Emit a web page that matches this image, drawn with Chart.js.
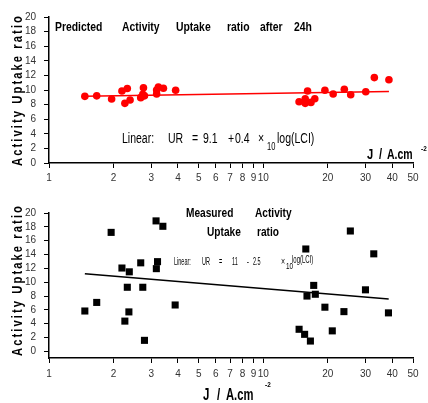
<!DOCTYPE html>
<html>
<head>
<meta charset="utf-8">
<script src="https://cdn.jsdelivr.net/npm/chart.js@4.4.1/dist/chart.umd.min.js"></script>
<style>
  html, body { margin: 0; padding: 0; background: #fff; }
  #wrap { position: relative; width: 428px; height: 403px; }
  canvas { position: absolute; left: 0; }
</style>
</head>
<body>
<div id="wrap">
  <canvas id="predicted" width="428" height="200" style="top:0"></canvas>
  <canvas id="measured" width="428" height="203" style="top:200px"></canvas>
</div>
<script>
// J / A.cm-2 and predicted uptake ratio (red dots)
const predJ = [1.47, 1.67, 1.96, 2.19, 2.26, 2.32, 2.39, 2.68, 2.74, 2.76, 2.79, 3.18, 3.18, 3.24, 3.42, 3.90,
  14.7, 15.7, 15.7, 16.1, 16.7, 17.4, 19.4, 21.2, 23.9, 25.6, 30.1, 33.0, 38.6];
const predUR = [9.13, 9.2, 8.77, 9.86, 8.17, 10.2, 8.63, 8.95, 9.4, 10.3, 9.2, 10.0, 9.45, 10.4, 10.25, 9.97,
  8.4, 8.8, 8.17, 9.86, 8.3, 8.8, 9.97, 9.45, 10.1, 9.35, 9.77, 11.7, 11.4];
// fitted line ends as drawn
const predFitJ = [1.47, 38.6];
const predFitUR = [9.15, 9.8];

// measured uptake ratio (black squares)
const measJ = [1.47, 1.67, 1.95, 2.19, 2.26, 2.32, 2.36, 2.37, 2.68, 2.74, 2.79, 3.16, 3.17, 3.21, 3.40, 3.88,
  14.7, 15.6, 15.8, 16.0, 16.6, 17.2, 17.5, 19.4, 21.0, 23.8, 25.5, 30.0, 32.8, 38.4];
const measUR = [5.84, 7.08, 17.2, 12.05, 4.38, 9.27, 5.71, 11.5, 12.8, 9.27, 1.6, 18.86, 11.96, 12.97, 18.08, 6.71,
  3.2, 2.47, 14.8, 8.0, 1.5, 9.54, 8.26, 6.39, 2.97, 5.75, 17.4, 8.9, 14.1, 5.57];
const measFitJ = [1.47, 38.5];
const measFitUR = [11.23, 7.58];

const xTicks = [1, 2, 3, 4, 5, 6, 7, 8, 9, 10, 20, 30, 40, 50];
const yTicks = [0, 1, 2, 3, 4, 5, 6, 7, 8, 9, 10, 11, 12, 13, 14, 15, 16, 17, 18, 19, 20];

const narrow = '"Liberation Sans Narrow", "Arial Narrow", "Liberation Sans", sans-serif';
const sans = '"Liberation Sans", Arial, sans-serif';

function toPoints(xs, ys) {
    return xs.map((x, i) => ({ x: x, y: ys[i] }));
}

function drawLabel(ctx, t) {
    ctx.save();
    ctx.translate(t.x, t.y);
    if (t.rot) ctx.rotate(t.rot);
    ctx.scale(t.sx || 1, 1);
    ctx.font = t.font;
    ctx.fillStyle = "#000";
    ctx.textAlign = t.align || "left";
    ctx.textBaseline = "middle";
    if (t.spacing) ctx.letterSpacing = t.spacing;
    ctx.fillText(t.text, 0, 0);
    ctx.restore();
}

function textPlugin(items) {
    return {
        id: "texts",
        afterDraw(chart) {
            items.forEach((t) => drawLabel(chart.ctx, t));
        },
    };
}

function makeScales(yMin, xHeight, xPad) {
    return {
        x: {
            type: "logarithmic",
            min: 1,
            max: 50,
            afterBuildTicks: (s) => { s.ticks = xTicks.map((v) => ({ value: v })); },
            afterFit: (s) => { s.height = xHeight; },
            border: { display: true, color: "#000", width: 1.5 },
            grid: { drawOnChartArea: false, drawTicks: true, tickLength: 5, color: "#000", lineWidth: 1 },
            ticks: {
                autoSkip: false,
                maxRotation: 0,
                padding: xPad,
                color: "#333",
                font: { family: narrow, size: 10 },
                callback: (v) => String(v),
            },
        },
        y: {
            min: yMin,
            max: 20,
            afterBuildTicks: (s) => { s.ticks = yTicks.map((v) => ({ value: v })); },
            afterFit: (s) => { s.width = 49; },
            border: { display: true, color: "#000", width: 1.5 },
            grid: { drawOnChartArea: false, drawTicks: true, tickLength: 5, color: "#000", lineWidth: 1 },
            ticks: {
                padding: 8,
                color: "#333",
                font: { family: narrow, size: 10, lineHeight: 1 },
                callback: (v) => (v % 2 === 0 ? String(v) : ""),
            },
        },
    };
}

const yTitle = { text: "Activity Uptake ratio", x: 18, rot: -Math.PI / 2, font: "bold 14px " + sans, sx: 0.8, align: "center", spacing: "2.6px" };

const predTexts = [
    Object.assign({ y: 90 }, yTitle),
    { text: "Predicted", x: 55, y: 27, font: "bold 13px " + sans, sx: 0.8 },
    { text: "Activity", x: 122, y: 27, font: "bold 13px " + sans, sx: 0.8 },
    { text: "Uptake", x: 176, y: 27, font: "bold 13px " + sans, sx: 0.8 },
    { text: "ratio", x: 227, y: 27, font: "bold 13px " + sans, sx: 0.8 },
    { text: "after", x: 260, y: 27, font: "bold 13px " + sans, sx: 0.8 },
    { text: "24h", x: 294, y: 27, font: "bold 13px " + sans, sx: 0.8 },
    { text: "Linear:", x: 122, y: 139, font: "14px " + sans, sx: 0.75 },
    { text: "UR", x: 168, y: 139, font: "14px " + sans, sx: 0.75 },
    { text: "=", x: 192, y: 139, font: "14px " + sans, sx: 0.75 },
    { text: "9.1", x: 203, y: 139, font: "14px " + sans, sx: 0.75 },
    { text: "+", x: 228, y: 139, font: "14px " + sans, sx: 0.75 },
    { text: "0.4", x: 235, y: 139, font: "14px " + sans, sx: 0.75 },
    { text: "\u00d7", x: 258, y: 139, font: "14px " + sans, sx: 0.75 },
    { text: "10", x: 267, y: 147, font: "10px " + sans, sx: 0.75 },
    { text: "log(LCI)", x: 277, y: 139, font: "14px " + sans, sx: 0.75 },
    { text: "J", x: 367, y: 155, font: "bold 14px " + sans, sx: 0.8 },
    { text: "/", x: 379, y: 155, font: "bold 14px " + sans, sx: 0.8 },
    { text: "A.cm", x: 387, y: 155, font: "bold 14px " + sans, sx: 0.75 },
    { text: "-2", x: 421, y: 149, font: "bold 8px " + sans, sx: 0.8 },
];

const measTexts = [
    Object.assign({ y: 80 }, yTitle),
    { text: "Measured", x: 186, y: 13, font: "bold 13px " + sans, sx: 0.78 },
    { text: "Activity", x: 255, y: 13, font: "bold 13px " + sans, sx: 0.78 },
    { text: "Uptake", x: 207, y: 32, font: "bold 13px " + sans, sx: 0.78 },
    { text: "ratio", x: 257, y: 32, font: "bold 13px " + sans, sx: 0.78 },
    { text: "Linear:", x: 174, y: 62, font: "10px " + sans, sx: 0.55 },
    { text: "UR", x: 202, y: 62, font: "10px " + sans, sx: 0.55 },
    { text: "=", x: 219, y: 62, font: "10px " + sans, sx: 0.55 },
    { text: "11", x: 232, y: 62, font: "10px " + sans, sx: 0.55 },
    { text: "-", x: 247, y: 62, font: "10px " + sans, sx: 0.55 },
    { text: "2.5", x: 253, y: 62, font: "10px " + sans, sx: 0.55 },
    { text: "\u00d7", x: 281, y: 62, font: "10px " + sans, sx: 0.7 },
    { text: "10", x: 286, y: 67, font: "9px " + sans, sx: 0.7 },
    { text: "log(LCI)", x: 292, y: 60, font: "10px " + sans, sx: 0.6 },
    { text: "J", x: 203, y: 196, font: "bold 16px " + sans, sx: 0.72 },
    { text: "/", x: 217, y: 196, font: "bold 16px " + sans, sx: 0.72 },
    { text: "A.cm", x: 226, y: 196, font: "bold 16px " + sans, sx: 0.7 },
    { text: "-2", x: 265, y: 185, font: "bold 8px " + sans, sx: 0.8 },
];

new Chart(document.getElementById("predicted"), {
    type: "scatter",
    data: {
        datasets: [
            {
                data: toPoints(predFitJ, predFitUR),
                showLine: true,
                borderColor: "#ff0000",
                borderWidth: 1.6,
                pointRadius: 0,
            },
            {
                data: toPoints(predJ, predUR),
                pointStyle: "circle",
                pointRadius: 3.8,
                backgroundColor: "#ff0000",
                borderColor: "#ff0000",
                borderWidth: 0,
            },
        ],
    },
    options: {
        responsive: false,
        animation: false,
        layout: { padding: { left: 0, right: 15, top: 17, bottom: 0 } },
        scales: makeScales(0, 37, 4),
        plugins: { legend: { display: false }, tooltip: { enabled: false } },
    },
    plugins: [textPlugin(predTexts)],
});

new Chart(document.getElementById("measured"), {
    type: "scatter",
    data: {
        datasets: [
            {
                data: toPoints(measFitJ, measFitUR),
                showLine: true,
                borderColor: "#000",
                borderWidth: 1.6,
                pointRadius: 0,
            },
            {
                data: toPoints(measJ, measUR),
                pointStyle: "rect",
                pointRadius: 5,
                backgroundColor: "#000",
                borderColor: "#000",
                borderWidth: 0,
            },
        ],
    },
    options: {
        responsive: false,
        animation: false,
        layout: { padding: { left: 0, right: 15, top: 5, bottom: 0 } },
        scales: makeScales(-0.95, 45, 5),
        plugins: { legend: { display: false }, tooltip: { enabled: false } },
    },
    plugins: [textPlugin(measTexts)],
});
</script>
</body>
</html>
